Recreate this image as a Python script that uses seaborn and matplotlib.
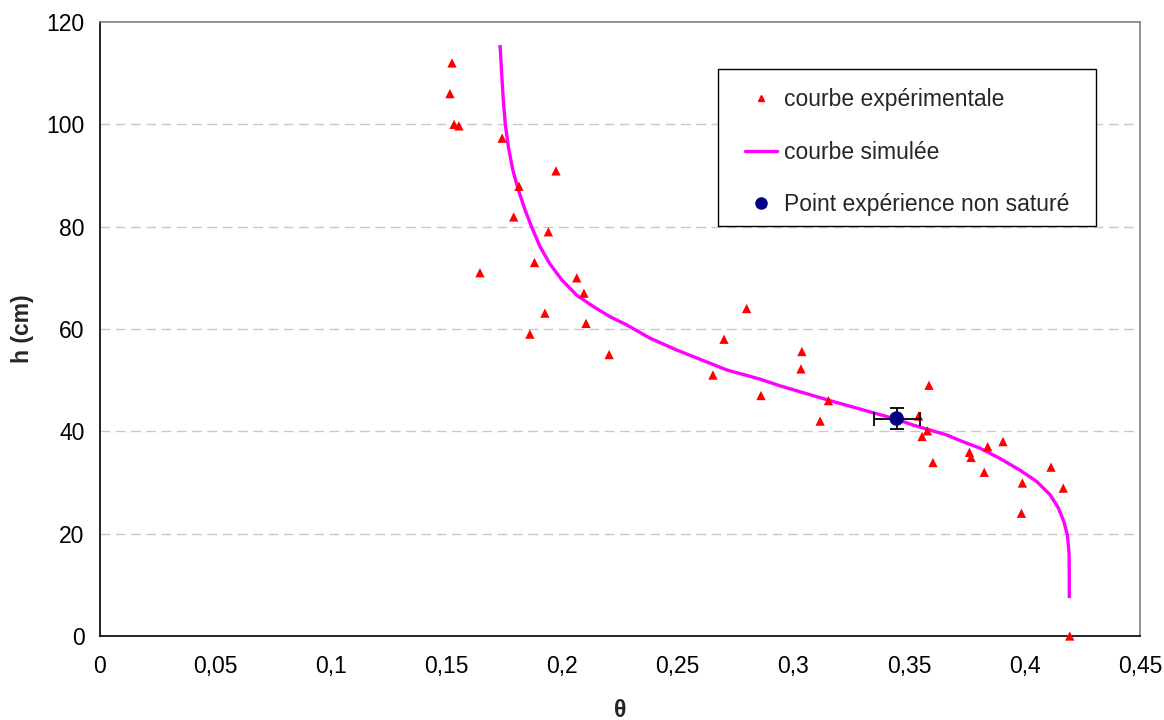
import matplotlib
matplotlib.use("Agg")
import matplotlib.pyplot as plt
import seaborn as sns
import pandas as pd
from matplotlib.lines import Line2D
from matplotlib.patches import Rectangle

# ---- data ----
theta_exp = [0.1523, 0.1514, 0.1532, 0.1553, 0.1740, 0.1973, 0.1813, 0.1790, 0.1940,
             0.1644, 0.1880, 0.2063, 0.2094, 0.1925, 0.2103, 0.1860, 0.2203, 0.2798,
             0.2700, 0.3037, 0.2652, 0.3033, 0.2860, 0.3152, 0.3116, 0.3587, 0.3542,
             0.3580, 0.3557, 0.3604, 0.3762, 0.3769, 0.3841, 0.3907, 0.3826, 0.4115,
             0.3991, 0.4168, 0.3987, 0.4196]
h_exp = [112.0, 106.0, 100.0, 99.7, 97.3, 90.9, 87.9, 81.9, 79.0,
         71.0, 73.0, 70.0, 67.0, 63.1, 61.1, 59.0, 55.0, 64.0,
         58.0, 55.6, 51.0, 52.2, 47.0, 46.0, 42.0, 49.0, 43.0,
         40.1, 39.0, 33.9, 35.9, 34.9, 37.0, 38.0, 32.0, 33.0,
         29.9, 28.9, 24.0, 0.0]

theta_sim = [0.1731, 0.1738, 0.1745, 0.1754, 0.1767, 0.1786, 0.1810, 0.1839, 0.1868,
             0.1904, 0.1947, 0.1998, 0.2063, 0.2134, 0.2207, 0.2279, 0.2380, 0.2495,
             0.2712, 0.2856, 0.2942, 0.3159, 0.3447, 0.3520, 0.3663, 0.3721, 0.3808,
             0.3894, 0.3981, 0.4053, 0.4111, 0.4147, 0.4171, 0.4186, 0.4193, 0.4194,
             0.4194]
h_sim = [115.5, 110.0, 104.8, 99.9, 95.6, 91.1, 87.2, 83.3, 79.9,
         76.1, 72.7, 69.6, 66.6, 64.4, 62.4, 60.8, 58.2, 55.9,
         52.0, 50.2, 48.9, 46.0, 42.35, 41.2, 39.3, 38.2, 36.7,
         34.7, 32.4, 30.2, 27.6, 25.0, 22.3, 19.7, 16.2, 12.3,
         7.4]

theta_pt = [0.3447]
h_pt = [42.5]
theta_pt_err = [0.0100]
h_pt_err = [2.0]

x_ticks = [0, 0.05, 0.1, 0.15, 0.2, 0.25, 0.3, 0.35, 0.4, 0.45]
x_tick_labels = ["0", "0,05", "0,1", "0,15", "0,2", "0,25", "0,3", "0,35", "0,4", "0,45"]
y_ticks = [0, 20, 40, 60, 80, 100, 120]
y_tick_labels = ["0", "20", "40", "60", "80", "100", "120"]

labels = ["courbe expérimentale", "courbe simulée", "Point expérience non saturé"]

# ---- plotting ----
sns.set_theme(style="white")
plt.rcParams["font.family"] = ["Liberation Sans", "DejaVu Sans"]

fig = plt.figure(figsize=(11.64, 7.2), dpi=100)
ax = fig.add_axes([100/1164, 84/720, 1040/1164, 614/720])

ax.set_xlim(0, 0.45)
ax.set_ylim(0, 120)

# grid
for yv in y_ticks[1:-1]:
    ax.axhline(yv, color="#c8c8c8", lw=1.0, dashes=(7, 4), zorder=0)

df_exp = pd.DataFrame({"theta": theta_exp, "h": h_exp})
df_sim = pd.DataFrame({"theta": theta_sim, "h": h_sim})

sns.lineplot(data=df_sim, x="theta", y="h", color="#FF00FF", lw=2.4,
             sort=False, estimator=None, ax=ax, zorder=2,
             solid_joinstyle="round", solid_capstyle="butt")
sns.scatterplot(data=df_exp, x="theta", y="h", marker="^", color="#FF0000",
                s=45, edgecolor="none", ax=ax, zorder=3, clip_on=False)
ax.errorbar(theta_pt, h_pt, xerr=theta_pt_err, yerr=h_pt_err, fmt="none",
            ecolor="black", elinewidth=1.3, capsize=5, capthick=1.3, zorder=4)
sns.scatterplot(x=theta_pt, y=h_pt, marker="o", color="#000080", s=110,
                edgecolor="none", ax=ax, zorder=5)

ax.set_xticks(x_ticks)
ax.set_xticklabels(x_tick_labels)
ax.set_yticks(y_ticks)
ax.set_yticklabels(y_tick_labels)
ax.tick_params(axis="both", which="major", labelsize=16.5, colors="black",
               direction="out", length=5, width=1, pad=6)
ax.tick_params(axis="x", pad=9)

for side in ["left", "bottom"]:
    ax.spines[side].set_color("black")
    ax.spines[side].set_linewidth(1.2)
for side in ["top", "right"]:
    ax.spines[side].set_color("#808080")
    ax.spines[side].set_linewidth(1.2)

ax.set_xlabel("θ", fontsize=16.5, fontweight="bold", labelpad=15)
ax.set_ylabel("h (cm)", fontsize=16.5, fontweight="bold", labelpad=9)

# legend frame (Excel-like, drawn separately so padding can differ per side)
frame = Rectangle((0.5942, 0.6683), 0.9577 - 0.5942, 0.9235 - 0.6683,
                  transform=ax.transAxes, facecolor="white", edgecolor="black",
                  lw=1.0, zorder=6)
ax.add_patch(frame)

handles = [
    Line2D([], [], marker="^", color="#FF0000", ls="none", markersize=5),
    Line2D([], [], color="#FF00FF", lw=2.4),
    Line2D([], [], marker="o", color="#000080", ls="none", markersize=8),
]
leg = ax.legend(handles, labels, loc="upper left", bbox_to_anchor=(0.620, 0.892),
                borderaxespad=0, borderpad=0, fontsize=16.5, frameon=False,
                labelspacing=1.28, handlelength=1.4, handletextpad=0.3)
leg.set_zorder(7)

fig.savefig("out.png", dpi=100)
